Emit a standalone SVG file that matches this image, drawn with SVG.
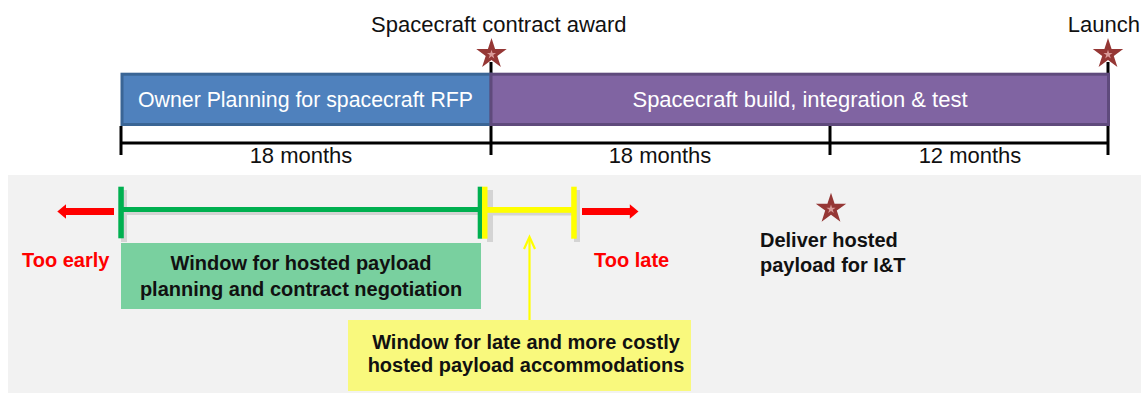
<svg xmlns="http://www.w3.org/2000/svg" xmlns:xlink="http://www.w3.org/1999/xlink" width="1141" height="393" viewBox="0 0 1141 393">
<style>
.top{font-family:"Liberation Sans",Arial,sans-serif;font-size:22px;fill:#111}
.bar{font-family:"Liberation Sans",Arial,sans-serif;fill:#fff}
.bold{font-family:"Liberation Sans",Arial,sans-serif;font-size:20px;font-weight:bold;fill:#111}
.red{font-family:"Liberation Sans",Arial,sans-serif;font-size:20px;font-weight:bold;fill:#ff0000}
.axis{stroke:#000;stroke-width:3;fill:none}
.shadow{fill:#d4d4d4}
</style>
<defs>
<g id="star">
<path d="M0,-16 L3.59,-4.94 L15.22,-4.94 L5.8,1.89 L9.4,12.94 L0,6.1 L-9.4,12.94 L-5.8,1.89 L-15.22,-4.94 L-3.59,-4.94 Z" fill="#953735"/>
<path d="M0,-16 L3.59,-4.94 L15.22,-4.94 L5.8,1.89 L9.4,12.94 L0,6.1 L-9.4,12.94 L-5.8,1.89 L-15.22,-4.94 L-3.59,-4.94 Z" fill="#d99a98" transform="translate(0,0.5) scale(0.3)"/>
</g>
</defs>
<rect id="background" x="8" y="175" width="1133" height="218" fill="#f2f2f2"/>
<g id="connectors">
<line class="axis" x1="121" y1="143" x2="1108" y2="143"/>
<line class="axis" x1="121" y1="126" x2="121" y2="155"/>
<line class="axis" x1="491" y1="62" x2="491" y2="155"/>
<line class="axis" x1="830" y1="126" x2="830" y2="155"/>
<line class="axis" x1="1108" y1="62" x2="1108" y2="155"/>
<g id="shadows">
<rect class="shadow" x="121" y="190" width="6" height="52"/>
<rect class="shadow" x="123" y="210" width="365" height="5"/>
<rect class="shadow" x="487" y="190" width="6" height="52"/>
<rect class="shadow" x="488" y="210" width="89" height="5.5"/>
<rect class="shadow" x="574" y="190" width="6" height="52"/>
</g>
<rect x="118.3" y="186.7" width="5.5" height="51.6" fill="#00b050"/>
<rect x="121" y="207" width="359" height="5" fill="#00b050"/>
<rect x="477.7" y="186.7" width="4.5" height="52" fill="#00b050"/>
<rect x="482" y="186.7" width="5.5" height="52" fill="#ffff00"/>
<rect x="485" y="207" width="89" height="5.8" fill="#ffff00"/>
<rect x="571.2" y="186.7" width="5.5" height="52" fill="#ffff00"/>
<rect x="65" y="208" width="49" height="7" fill="#ff0000"/>
<polygon points="57.3,211.5 66,204.3 66,218.7" fill="#ff0000"/>
<rect x="582" y="208" width="48" height="7" fill="#ff0000"/>
<polygon points="638.5,211.5 629.8,204.3 629.8,218.7" fill="#ff0000"/>
<line x1="529.5" y1="321" x2="529.5" y2="238" stroke="#ffff00" stroke-width="2.2"/>
<polyline points="524,249 529.5,237 535,249" fill="none" stroke="#ffff00" stroke-width="2.2"/>
</g>
<g id="node-owner-planning">
<rect x="122" y="74.2" width="369" height="50.3" fill="#4f81bd" stroke="#3a6595" stroke-width="3"/>
<text class="bar" x="138" y="107" font-size="21.3">Owner Planning for spacecraft RFP</text>
</g>
<g id="node-spacecraft-build">
<rect x="491" y="74.2" width="617.5" height="50.3" fill="#8064a2" stroke="#5f4a7c" stroke-width="3"/>
<text class="bar" x="800" y="107" font-size="22" text-anchor="middle">Spacecraft build, integration &amp; test</text>
</g>
<g id="node-contract-award">
<use xlink:href="#star" href="#star" x="491.5" y="54"/>
<text class="top" x="371" y="32">Spacecraft contract award</text>
</g>
<g id="node-launch">
<use xlink:href="#star" href="#star" x="1108" y="54"/>
<text class="top" x="1140" y="32" text-anchor="end">Launch</text>
</g>
<g id="durations">
<text class="top" x="301" y="163" text-anchor="middle">18 months</text>
<text class="top" x="660" y="163" text-anchor="middle">18 months</text>
<text class="top" x="970" y="163" text-anchor="middle">12 months</text>
</g>
<g id="node-too-early">
<text class="red" x="22" y="267">Too early</text>
</g>
<g id="node-too-late">
<text class="red" x="594" y="267">Too late</text>
</g>
<g id="node-window-planning">
<rect x="121" y="243" width="360" height="66" fill="#79d09f"/>
<text class="bold" x="301" y="270" text-anchor="middle">Window for hosted payload</text>
<text class="bold" x="301" y="296" text-anchor="middle">planning and contract negotiation</text>
</g>
<g id="node-window-late">
<rect x="348" y="320" width="343" height="71" fill="#f9f97d"/>
<text class="bold" x="526" y="348.5" text-anchor="middle">Window for late and more costly</text>
<text class="bold" x="526" y="372" text-anchor="middle">hosted payload accommodations</text>
</g>
<g id="node-deliver">
<use xlink:href="#star" href="#star" x="831" y="208.7"/>
<text class="bold" x="760" y="247">Deliver hosted</text>
<text class="bold" x="760" y="272">payload for I&amp;T</text>
</g>
</svg>
